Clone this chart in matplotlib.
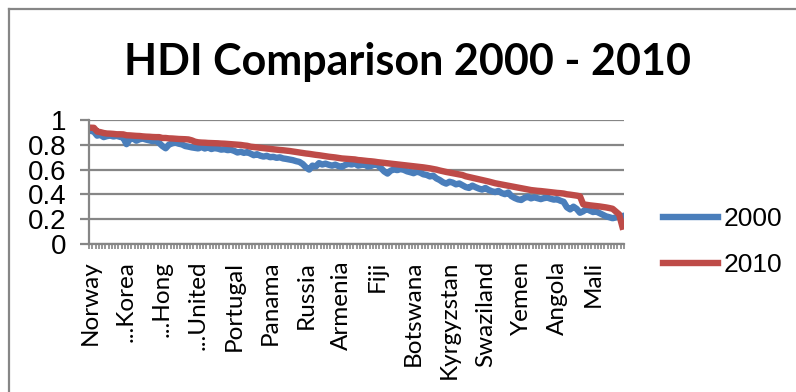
import matplotlib
matplotlib.use("Agg")
import matplotlib.pyplot as plt
from matplotlib.lines import Line2D
import numpy as np


# HDI by country, ordered by the 2010 score (164 countries)
hdi_2010 = [
    0.938, 0.937, 0.907, 0.902, 0.895, 0.891, 0.890, 0.888, 0.885, 0.885, 0.884, 0.877, 0.876, 0.874, 0.872, 0.871,
    0.868, 0.866, 0.865, 0.863, 0.862, 0.862, 0.855, 0.855, 0.852, 0.851, 0.849, 0.847, 0.846, 0.845, 0.843,
    0.836, 0.825, 0.820,
    0.818, 0.817, 0.815, 0.814, 0.813, 0.812, 0.810, 0.809, 0.807, 0.805, 0.803, 0.801, 0.799,
    0.795, 0.792, 0.785, 0.782, 0.779, 0.776, 0.773, 0.770, 0.767, 0.764, 0.761, 0.758, 0.756, 0.753, 0.750,
    0.746, 0.742, 0.738, 0.734, 0.730,
    0.727, 0.723, 0.719, 0.716, 0.712, 0.708, 0.704, 0.701, 0.698, 0.694, 0.690,
    0.688, 0.686, 0.684, 0.682, 0.677, 0.675, 0.672, 0.669, 0.667, 0.664, 0.660,
    0.657, 0.654, 0.651, 0.648, 0.645, 0.642, 0.639, 0.636, 0.633, 0.630, 0.627, 0.624, 0.621, 0.618, 0.614, 0.610,
    0.605, 0.600, 0.593, 0.587, 0.581, 0.576, 0.571, 0.566, 0.561, 0.556, 0.546, 0.540,
    0.534, 0.528, 0.522, 0.516, 0.510, 0.504, 0.497, 0.490,
    0.485, 0.480, 0.475, 0.470, 0.465, 0.460, 0.455, 0.450, 0.445, 0.440, 0.435,
    0.432, 0.429, 0.427, 0.424, 0.421, 0.418, 0.415, 0.412, 0.410, 0.407, 0.401, 0.398, 0.394, 0.390, 0.385,
    0.320, 0.316, 0.312, 0.309, 0.306, 0.303, 0.299, 0.295, 0.290, 0.284, 0.261, 0.239, 0.140,
]

hdi_2000 = [
    0.913, 0.906, 0.874, 0.881, 0.862, 0.870, 0.874, 0.867, 0.872, 0.864, 0.858, 0.805, 0.846, 0.852, 0.833, 0.845,
    0.850, 0.842, 0.836, 0.829, 0.834, 0.815, 0.790, 0.772, 0.801, 0.812, 0.818, 0.809, 0.803, 0.790, 0.785,
    0.779, 0.775, 0.771,
    0.782, 0.770, 0.779, 0.766, 0.773, 0.769, 0.761, 0.764, 0.757, 0.760, 0.751, 0.738, 0.744,
    0.735, 0.741, 0.729, 0.716, 0.724, 0.712, 0.705, 0.711, 0.700, 0.703, 0.695, 0.699, 0.690, 0.686, 0.681,
    0.676, 0.668, 0.662, 0.645, 0.618,
    0.600, 0.632, 0.625, 0.652, 0.641, 0.648, 0.639, 0.632, 0.640, 0.628, 0.622,
    0.637, 0.646, 0.641, 0.650, 0.632, 0.638, 0.641, 0.625, 0.630, 0.643, 0.636,
    0.612, 0.585, 0.568, 0.592, 0.601, 0.596, 0.604, 0.598, 0.586, 0.579, 0.571, 0.583, 0.576, 0.562, 0.557, 0.545,
    0.551, 0.529, 0.516, 0.498, 0.487, 0.502, 0.495, 0.481, 0.488, 0.474, 0.459, 0.452,
    0.471, 0.458, 0.447, 0.439, 0.452, 0.436, 0.425, 0.419,
    0.428, 0.411, 0.402, 0.415, 0.386, 0.371, 0.360, 0.355, 0.372, 0.381, 0.368,
    0.376, 0.369, 0.362, 0.370, 0.374, 0.365, 0.358, 0.361, 0.349, 0.340, 0.296, 0.279, 0.301, 0.283, 0.252,
    0.264, 0.285, 0.270, 0.258, 0.262, 0.249, 0.236, 0.223, 0.216, 0.208, 0.214, 0.219, 0.225,
]

# every 11th country gets a label on the category axis
label_step = 11
tick_labels = ["Norway", "...Korea", "...Hong", "...United", "Portugal", "Panama", "Russia",
               "Armenia", "Fiji", "Botswana", "Kyrgyzstan", "Swaziland", "Yemen", "Angola", "Mali"]

y_ticks = [0, 0.2, 0.4, 0.6, 0.8, 1.0]
y_tick_labels = ["0", "0.2", "0.4", "0.6", "0.8", "1"]

BLUE = "#4A7EBB"
RED = "#BE4B48"
GREY = "#868686"

W, H = 796, 392
fig = plt.figure(figsize=(W / 100, H / 100), dpi=100)

# chart frame (only the left and top edges fall inside the image)
fig.add_artist(Line2D([9 / W, 9 / W], [0, 1 - 9 / H], transform=fig.transFigure, color=GREY, lw=1.6))
fig.add_artist(Line2D([9 / W, 1], [1 - 9 / H, 1 - 9 / H], transform=fig.transFigure, color=GREY, lw=1.6))

ax = fig.add_axes([89 / W, 1 - 244 / H, 535 / W, 124 / H])

n = len(hdi_2010)
x = np.arange(n)
ax.plot(x, hdi_2000, color=BLUE, lw=4.6, solid_joinstyle="round", label="2000")
ax.plot(x, hdi_2010, color=RED, lw=4.6, solid_joinstyle="round", label="2010")

ax.set_xlim(-0.5, n - 0.5)
ax.set_ylim(0, 1)

for s in ["top", "right"]:
    ax.spines[s].set_visible(False)
for s in ["left", "bottom"]:
    ax.spines[s].set_color(GREY)
    ax.spines[s].set_linewidth(1.6)

ax.set_yticks(y_ticks)
ax.set_yticklabels(y_tick_labels, fontfamily="Liberation Sans", fontsize=20)
ax.tick_params(axis="y", direction="out", length=6.5, width=1.6, color=GREY, pad=10)
ax.yaxis.grid(True, color=GREY, lw=1.6)
ax.set_axisbelow(True)

ax.set_xticks(x[::label_step])
ax.set_xticklabels(tick_labels, rotation=90, fontfamily="Lato", fontsize=17.5, va="top", ha="center")
ax.set_xticks(np.arange(n + 1) - 0.5, minor=True)
ax.tick_params(axis="x", which="major", length=0, pad=12)
ax.tick_params(axis="x", which="minor", direction="out", length=3.6, width=1.2, color=GREY)

fig.text(408 / W, 1 - 62 / H, "HDI Comparison 2000 - 2010", ha="center", va="center",
         fontfamily="Lato", fontweight="bold", fontsize=31)

fig.legend(loc="center left", bbox_to_anchor=(663 / W, 1 - 242 / H), frameon=False,
           prop={"family": "Liberation Sans", "size": 19}, handlelength=2.08,
           handletextpad=0.2, labelspacing=0.82, borderpad=0, borderaxespad=0)

fig.savefig("out.png", dpi=100)
